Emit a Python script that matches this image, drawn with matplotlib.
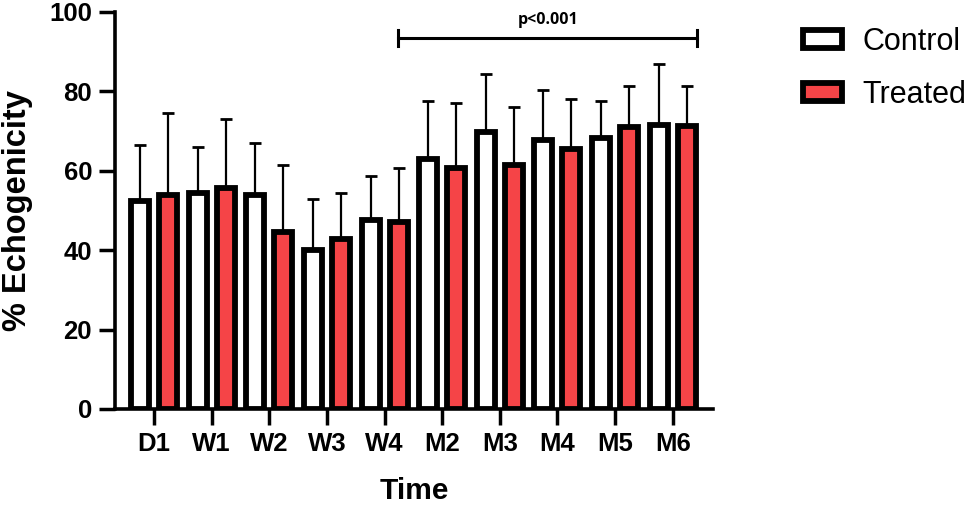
import matplotlib
matplotlib.use("Agg")
import matplotlib.pyplot as plt
from matplotlib.patches import Patch
import numpy as np

categories = ["D1", "W1", "W2", "W3", "W4", "M2", "M3", "M4", "M5", "M6"]
control_mean = [52.5, 54.5, 54.0, 40.0, 47.5, 63.0, 69.8, 67.8, 68.2, 71.6]
control_upper = [66.4, 66.0, 66.9, 52.8, 58.6, 77.6, 84.4, 80.3, 77.6, 86.8]
treated_mean = [53.8, 55.6, 44.6, 42.9, 47.0, 60.8, 61.5, 65.4, 71.0, 71.3]
treated_upper = [74.6, 73.0, 61.4, 54.4, 60.7, 77.2, 76.1, 78.1, 81.3, 81.4]
series_names = ["Control", "Treated"]
yticks = [0, 20, 40, 60, 80, 100]
sig_label = "p<0.001"

RED = "#F54447"
plt.rcParams['font.family'] = ['Liberation Sans', 'DejaVu Sans']

fig = plt.figure(figsize=(9.76, 5.08), dpi=100)
ax = fig.add_axes([0.1178, 0.1949, 0.6127, 0.7815])

x = np.arange(len(categories))
off = 0.243
w = 0.31
cm = np.array(control_mean); cu = np.array(control_upper)
tm = np.array(treated_mean); tu = np.array(treated_upper)

ax.errorbar(x - off, cm, yerr=[np.zeros_like(cm), cu - cm], fmt='none',
            ecolor='black', elinewidth=1.6, capsize=4.2, capthick=2.0, zorder=1)
ax.errorbar(x + off, tm, yerr=[np.zeros_like(tm), tu - tm], fmt='none',
            ecolor='black', elinewidth=1.6, capsize=4.2, capthick=2.0, zorder=1)
ax.bar(x - off, cm, width=w, color='white', edgecolor='black', linewidth=4.2, zorder=2)
ax.bar(x + off, tm, width=w, color=RED, edgecolor='black', linewidth=4.2, zorder=2)

tick_font = dict(fontsize=18.5, fontweight='bold')
ax.set_xlim(-0.68, 9.70)
ax.set_ylim(0, 100)
ax.set_yticks(yticks)
ax.set_yticklabels([str(v) for v in yticks], **tick_font)
ax.set_xticks(x)
ax.set_xticklabels(categories, **tick_font)
ax.tick_params(axis='both', length=11.5, width=2.5, direction='out')
ax.tick_params(axis='x', pad=5)
ax.tick_params(axis='y', pad=5)
for s in ['top', 'right']:
    ax.spines[s].set_visible(False)
for s in ['left', 'bottom']:
    ax.spines[s].set_linewidth(2.6)

ax.set_ylabel("% Echogenicity", fontsize=23.5, fontweight='bold')
ax.yaxis.set_label_coords(-0.137, 0.5)
ax.set_xlabel("Time", fontsize=21.5, fontweight='bold')
ax.xaxis.set_label_coords(0.5, -0.172)

# significance bracket
y_sig = 93.4
x0, x1 = 4.24, 9.42
ax.plot([x0, x1], [y_sig, y_sig], color='black', lw=2.2, clip_on=False)
ax.plot([x0, x0], [y_sig - 2, y_sig + 2], color='black', lw=2.2, clip_on=False)
ax.plot([x1, x1], [y_sig - 2, y_sig + 2], color='black', lw=2.2, clip_on=False)
ax.text((x0 + x1) / 2, y_sig + 2.6, sig_label, ha='center', va='bottom',
        fontsize=11.5, fontweight='bold', family=['Open Sans', 'DejaVu Sans'], clip_on=False)

handles = [Patch(facecolor='white', edgecolor='black', linewidth=4.2),
           Patch(facecolor=RED, edgecolor='black', linewidth=4.2)]
fig.legend(handles, series_names, loc='upper left', bbox_to_anchor=(0.823, 0.947),
           frameon=False, fontsize=22, handlelength=1.26, handleheight=0.54,
           handletextpad=0.68, labelspacing=0.76, borderaxespad=0, borderpad=0)

fig.savefig("out.png", dpi=100)
